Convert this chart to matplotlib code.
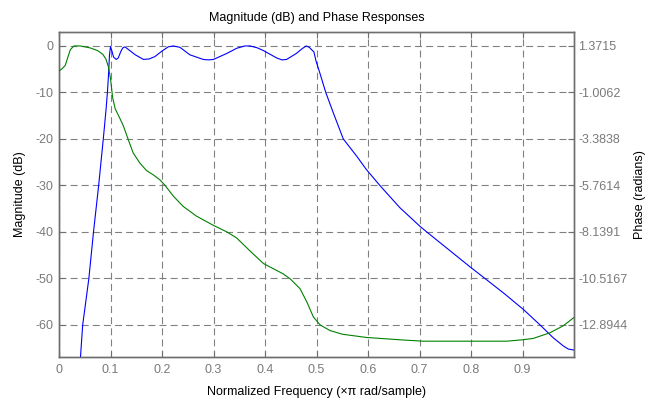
import matplotlib
matplotlib.use("Agg")
import matplotlib.pyplot as plt

plt.rcParams["font.family"] = ["Liberation Sans", "DejaVu Sans"]
plt.rcParams["lines.scale_dashes"] = False

# Magnitude response (dB) versus normalized frequency
mag_freq = [0.041, 0.046, 0.052, 0.058, 0.067, 0.077, 0.086, 0.0915, 0.094, 0.096,
            0.098, 0.100, 0.103, 0.106, 0.111, 0.115, 0.120, 0.124, 0.128, 0.134,
            0.148, 0.164, 0.175, 0.186, 0.200, 0.212, 0.222, 0.235, 0.254, 0.280,
            0.290, 0.300, 0.326, 0.345, 0.361, 0.371, 0.385, 0.397, 0.423, 0.433,
            0.442, 0.461, 0.472, 0.480, 0.486, 0.495, 0.499, 0.507, 0.518, 0.533,
            0.552, 0.578, 0.597, 0.623, 0.662, 0.701, 0.714, 0.798, 0.827, 0.865,
            0.902, 0.934, 0.960, 0.979, 0.989, 1.000]
mag_db = [-68.0, -60.0, -55.0, -50.0, -40.0, -30.0, -20.0, -13.5, -10.0, -6.5,
          -2.0, -0.1, -1.2, -2.4, -2.9, -2.6, -1.2, -0.4, -0.2, -0.7,
          -1.9, -2.9, -2.8, -2.3, -1.1, -0.2, 0.0, -0.3, -1.9, -2.9,
          -3.0, -2.9, -1.6, -0.5, 0.0, 0.0, -0.4, -1.0, -2.6, -3.0,
          -2.9, -1.6, -0.6, 0.0, -0.3, -1.3, -3.2, -6.0, -10.0, -14.5,
          -20.0, -23.7, -26.6, -30.0, -34.8, -38.8, -40.0, -47.5, -50.0, -53.3,
          -56.7, -60.0, -62.8, -64.5, -65.2, -65.4]

# Phase response (radians) versus normalized frequency
phase_freq = [0.000, 0.006, 0.012, 0.017, 0.022, 0.029, 0.041, 0.060, 0.075, 0.085,
              0.091, 0.096, 0.100, 0.104, 0.109, 0.117, 0.125, 0.135, 0.144, 0.157,
              0.170, 0.184, 0.196, 0.206, 0.222, 0.241, 0.267, 0.300, 0.326, 0.345,
              0.371, 0.397, 0.416, 0.435, 0.449, 0.468, 0.481, 0.494, 0.507, 0.526,
              0.550, 0.597, 0.662, 0.707, 0.869, 0.900, 0.921, 0.953, 0.979, 1.000]
phase_rad = [0.088, 0.207, 0.373, 0.777, 1.181, 1.372, 1.372, 1.276, 1.134, 0.944,
             0.706, 0.302, -0.293, -1.244, -1.838, -2.266, -2.718, -3.455, -4.097, -4.620,
             -5.001, -5.238, -5.476, -5.762, -6.308, -6.831, -7.331, -7.806, -8.139, -8.448,
             -9.114, -9.756, -10.017, -10.279, -10.541, -11.040, -11.706, -12.490, -12.894, -13.180,
             -13.370, -13.536, -13.655, -13.727, -13.727, -13.655, -13.584, -13.299, -12.942, -12.514]

x_ticks = [0, 0.1, 0.2, 0.3, 0.4, 0.5, 0.6, 0.7, 0.8, 0.9]
x_tick_labels = ["0", "0.1", "0.2", "0.3", "0.4", "0.5", "0.6", "0.7", "0.8", "0.9"]
mag_ticks = [-60, -50, -40, -30, -20, -10, 0]
phase_ticks = [-12.8944, -10.5167, -8.1391, -5.7614, -3.3838, -1.0062, 1.3715]
phase_tick_labels = ["-12.8944", "-10.5167", "-8.1391", "-5.7614", "-3.3838", "-1.0062", "1.3715"]

mag_lim = (-66.9, 3.0)

frame_col = "#6e6e6e"
tick_col = "#7a7a7a"
grid_col = "#808080"

fig = plt.figure(figsize=(6.46, 3.98), dpi=100)
ax = fig.add_axes([59 / 646, 41 / 398, 515 / 646, 325 / 398])
ax2 = ax.twinx()

ax.plot(mag_freq, mag_db, color=(0, 0, 1), lw=0.8, zorder=3)
ax2.plot(phase_freq, phase_rad, color=(0, 0.5, 0), lw=0.8, zorder=3)

ax.set_xlim(0, 1)
ax.set_ylim(*mag_lim)

# Align the phase axis so that its ticks sit on the magnitude grid lines
scale = (phase_ticks[-1] - phase_ticks[0]) / (mag_ticks[-1] - mag_ticks[0])
ax2.set_ylim(phase_ticks[-1] + scale * (mag_lim[0] - mag_ticks[-1]),
             phase_ticks[-1] + scale * (mag_lim[1] - mag_ticks[-1]))

ax.set_xticks(x_ticks)
ax.set_xticklabels(x_tick_labels)
ax.set_yticks(mag_ticks)
ax.set_yticklabels([str(v) for v in mag_ticks])
ax2.set_yticks(phase_ticks)
ax2.set_yticklabels(phase_tick_labels)

for a in (ax, ax2):
    for sp in a.spines.values():
        sp.set_color(frame_col)
        sp.set_linewidth(1.0)

ax.tick_params(axis="x", direction="in", length=4, width=0.8, color=frame_col,
               labelcolor=tick_col, labelsize=9, pad=5, top=True)
ax.tick_params(axis="y", direction="in", length=4, width=0.8, color=frame_col,
               labelcolor=tick_col, labelsize=9, pad=4)
ax2.tick_params(axis="y", direction="in", length=4, width=0.8, color=frame_col,
                labelcolor=tick_col, labelsize=9, pad=3)

ax.grid(True, color=grid_col, lw=0.8, linestyle=(0, (5.0, 3.0)))
ax.set_axisbelow(True)

ax.set_title("Magnitude (dB) and Phase Responses", fontsize=9, pad=8)
ax.set_xlabel("Normalized Frequency (\u00d7\u03c0 rad/sample)", fontsize=9, labelpad=7)
ax.set_ylabel("Magnitude (dB)", fontsize=9, labelpad=7)
ax2.set_ylabel("Phase (radians)", fontsize=9, labelpad=5)

fig.savefig("out.png", dpi=100, facecolor="white")
